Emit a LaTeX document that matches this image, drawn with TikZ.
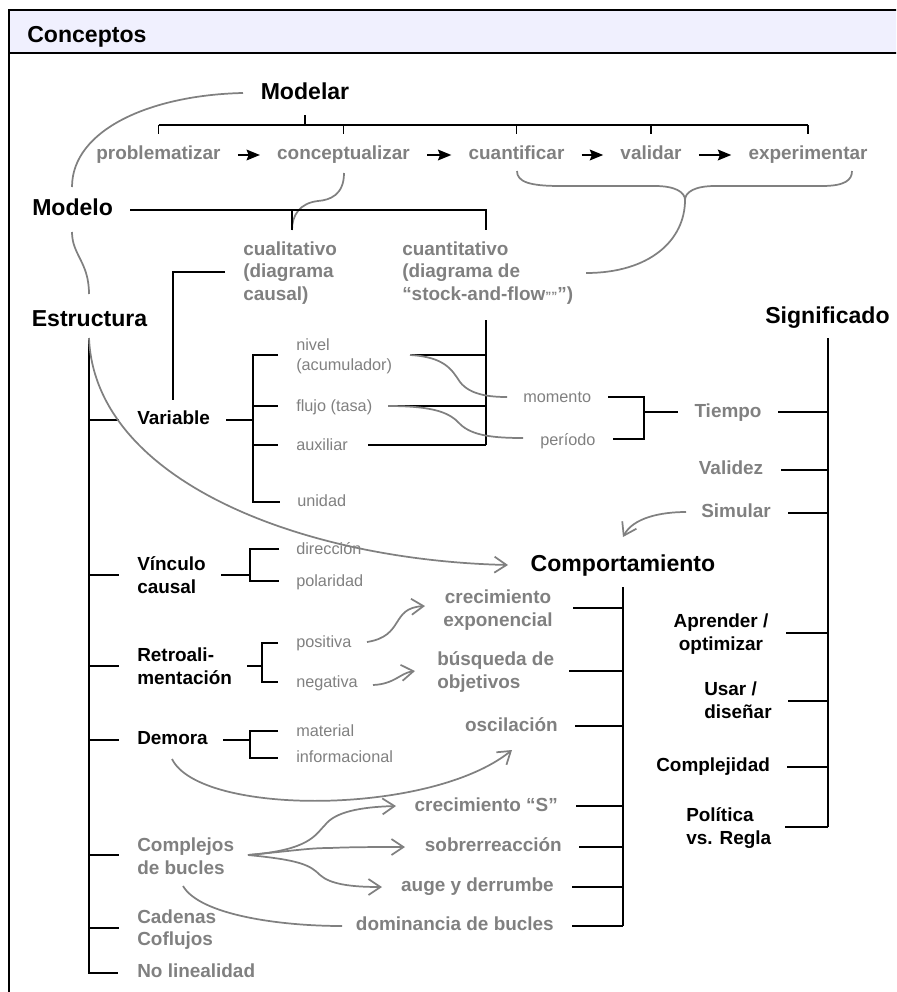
\documentclass[tikz,border=0pt]{standalone}
\usepackage{fontspec}
\setmainfont{Liberation Sans}
\usetikzlibrary{arrows.meta}
\definecolor{txtgray}{RGB}{128,128,128}
\definecolor{hdr}{RGB}{240,240,254}
\tikzset{
  big/.style={font=\bfseries\fontsize{17.3}{20}\selectfont, inner sep=0pt, text=black, text height=12.5pt, text depth=3.6pt},
  med/.style={font=\bfseries\fontsize{14.2}{16.9}\selectfont, inner sep=0pt},
  medk/.style={med, text=black},
  medg/.style={med, text=txtgray},
  one/.style={text height=10.3pt, text depth=3pt},
  sml/.style={font=\fontsize{12.2}{15}\selectfont, inner sep=0pt, text=txtgray},
  sone/.style={text height=8.8pt, text depth=2.6pt},
  ln/.style={draw=black, line width=0.9pt},
  lnb/.style={draw=black, line width=1.2pt},
  gc/.style={draw=txtgray, line width=1.3pt},
  garr/.style={gc, -{Straight Barb[length=9pt,width=12pt]}},
  barr/.style={draw=black, line width=1.5pt, -{Stealth[length=10pt,width=8pt,inset=1.5pt]}, shorten <=12.75pt, shorten >=12.75pt},
}
\begin{document}
\begin{tikzpicture}[x=0.75pt,y=-0.75pt]
\useasboundingbox (0,0) rectangle (896,992);
\clip (0,0) rectangle (896,992);
% frame
\fill[hdr] (9,10) rectangle (905,53);
\draw[line width=1.6pt] (905,10) -- (9,10) -- (9,1000);
\draw[line width=1.6pt] (9,53) -- (905,53);
\node[big, anchor=west] (conc) at (27,37) {Conceptos};

% main headings
\node[big] (modelar) at (305,94) {Modelar};
\node[big, anchor=west] (modelo) at (32,210) {Modelo};
\node[big] (estr) at (89.5,321) {Estructura};
\node[big] (signif) at (827.5,318) {Significado};
\node[big] (comp) at (623,566) {Comportamiento};

% process row
\node[medg, one] (prob) at (158.5,155) {problematizar};
\node[medg, one] (concz) at (343.5,155) {conceptualizar};
\node[medg, one] (cuan) at (516.5,155) {cuantificar};
\node[medg, one] (vali) at (651,155) {validar};
\node[medg, one] (expe) at (808,155) {experimentar};
\draw[barr] (prob) -- (concz);
\draw[barr] (concz) -- (cuan);
\draw[barr] (cuan) -- (vali);
\draw[barr] (vali) -- (expe);

% Modelar bracket
\coordinate (mt) at (305,115);
\coordinate (mb) at (305,125);
\draw[ln] (mt) -- (mb);
\draw[ln] (prob |- mb) -- (expe |- mb);
\foreach \n in {prob,concz,cuan,vali,expe} \draw[ln] (\n |- mb) -- ++(0,9);

% braces
\draw[gc] (517,171) .. controls (517,182) and (530,186) .. (560,186) -- (655,186)
  .. controls (675,186) and (685,192) .. (685,200)
  .. controls (685,192) and (695,186) .. (715,186) -- (822,186)
  .. controls (845,186) and (852,180) .. (852,171);
\draw[gc] (685,200) .. controls (685,240) and (650,273) .. (586,273);
\draw[gc] (344,173) .. controls (344,195) and (330,200) .. (318,201)
  .. controls (300,203) and (292,215) .. (292,230);

% Modelo bracket
\coordinate (mo1) at (130,210);
\coordinate (mo2) at (486,210);
\draw[ln] (mo1) -- (mo2) -- ++(0,20);
\draw[ln] (292,210) -- (292,230);

% Modelar -> Modelo -> Estructura
\draw[gc] (243,93) .. controls (150,95) and (72,130) .. (72,187);
\draw[gc] (72,232) .. controls (72,255) and (89,262) .. (89,294);

% model types
\node[medg, align=left, anchor=west] (cual) at (243,273) {cualitativo\\(diagrama\\causal)};
\node[medg, align=left, anchor=west] (cuant) at (402,273) {cuantitativo\\(diagrama de\\“stock-and-flow{\fontsize{9}{9}\selectfont ””}”)};
\draw[ln] (225,272) -- (173,272) -- (173,400);
\draw[ln] (486,320) -- (486,445);
\draw[ln] (410,355) -- (486,355);
\draw[ln] (388,406) -- (486,406);
\draw[ln] (368,445) -- (486,445);

% Estructura tree
\draw[lnb] (89,338) -- (89,973) -- (118,973);
\foreach \y in {420,575,666,740,855,928} \draw[ln] (89,\y) -- (119,\y);

\node[medk, one, anchor=west] (var) at (137,420) {Variable};
\node[medk, align=left, anchor=west] (vinc) at (137,575) {Vínculo\\causal};
\node[medk, align=left, anchor=west] (retro) at (137,666) {Retroali-\\mentación};
\node[medk, one, anchor=west] (demora) at (137,740) {Demora};
\node[medg, align=left, anchor=west] (compl) at (137,856) {Complejos\\de bucles};
\node[medg, align=left, anchor=west] (cad) at (137,929.5) {Cadenas\\Coflujos};
\node[medg, one, anchor=west] (nolin) at (137,973) {No linealidad};

% small labels
\node[sml, align=left, anchor=west] (nivel) at (296,356) {nivel\\(acumulador)};
\node[sml, sone, anchor=west] (flujo) at (296,407) {flujo (tasa)};
\node[sml, sone, anchor=west] (aux) at (296,446) {auxiliar};
\node[sml, sone, anchor=west] (unid) at (297,502) {unidad};
\node[sml, sone, anchor=west] (dir) at (296,550) {dirección};
\node[sml, sone, anchor=west] (pol) at (296,582) {polaridad};
\node[sml, sone, anchor=west] (pos) at (296,643) {positiva};
\node[sml, sone, anchor=west] (neg) at (296,683) {negativa};
\node[sml, sone, anchor=west] (mat) at (296,732) {material};
\node[sml, sone, anchor=west] (inf) at (296,758) {informacional};
\node[sml, sone, anchor=west] (mom) at (523,398) {momento};
\node[sml, sone, anchor=west] (per) at (540,441) {período};

% sub brackets
\draw[ln] (226,420) -- (253,420);
\draw[ln] (278,355) -- (253,355) -- (253,502) -- (280,502);
\draw[ln] (253,406) -- (278,406);
\draw[ln] (253,445) -- (278,445);
\draw[ln] (221,575) -- (250,575);
\draw[ln] (279,549) -- (250,549) -- (250,581) -- (279,581);
\draw[ln] (247,666) -- (262,666);
\draw[ln] (278,643) -- (262,643) -- (262,682) -- (278,682);
\draw[ln] (223,740) -- (250,740);
\draw[ln] (278,731) -- (250,731) -- (250,758) -- (278,758);

% nivel/flujo to momento/periodo
\draw[gc] (410,355) .. controls (445,357) and (452,370) .. (460,382)
  .. controls (470,395) and (490,397) .. (507,397);
\draw[gc] (388,406) .. controls (435,406) and (450,413) .. (460,424)
  .. controls (472,436) and (495,438) .. (523,438);

% Tiempo
\draw[ln] (608,397) -- (644,397) -- (644,439) -- (613,439);
\draw[ln] (644,412) -- (678,412);

% Significado tree
\node[medg, one] (tiempo) at (728,413) {Tiempo};
\node[medg, one] (valid) at (731,470) {Validez};
\node[medg, one] (simul) at (736,513) {Simular};
\node[medk, align=center] (apr) at (721,634) {Aprender /\\optimizar};
\node[medk, align=left, anchor=west] (usar) at (704,700) {Usar /\\diseñar};
\node[medk, one, anchor=west] (cplj) at (656,767) {Complejidad};
\node[medk, align=left, anchor=west] (polit) at (686,828) {Política\\vs. Regla};
\draw[lnb] (828,338) -- (828,827);
\foreach \x/\y in {778/412,781/470,788/513,786/633,788/701,787/767,785/827} \draw[ln] (\x,\y) -- (828,\y);

% Comportamiento tree
\node[medg, align=center] (crexp) at (498,610) {crecimiento\\exponencial};
\node[medg, align=left, anchor=west] (busq) at (437,672) {búsqueda de\\objetivos};
\node[medg, one, anchor=east] (osc) at (558,727) {oscilación};
\node[medg, one, anchor=east] (crs) at (558,807) {crecimiento “S”};
\node[medg, one, anchor=east] (sob) at (562,847) {sobrerreacción};
\node[medg, one, anchor=east] (auge) at (554,887) {auge y derrumbe};
\node[medg, one, anchor=east] (dom) at (554,926) {dominancia de bucles};
\draw[lnb] (623,587) -- (623,926);
\foreach \x/\y in {573/608,569/671,575/726,576/806,579/847,572/887,572/926} \draw[ln] (\x,\y) -- (623,\y);

% gray arrows
\draw[garr] (89,338) .. controls (95,480) and (300,560) .. (508,565);
\draw[garr] (686,512) .. controls (660,512) and (633,518) .. (623,537);
\draw[garr] (172,759) .. controls (200,816) and (430,816) .. (512,750);
\draw[garr] (367,642) .. controls (405,636) and (390,608) .. (425,606);
\draw[garr] (373,685) .. controls (395,684) and (400,673) .. (415,671);
\draw[garr] (248,855) .. controls (310,850) and (315,835) .. (325,825)
  .. controls (335,812) and (360,807) .. (396,806);
\draw[garr] (248,855) .. controls (300,850) and (310,848) .. (330,848)
  .. controls (350,847) and (380,847) .. (405,847);
\draw[garr] (248,855) .. controls (300,860) and (310,865) .. (320,875)
  .. controls (330,884) and (350,887) .. (382,887);
\draw[gc] (183,886) .. controls (200,915) and (280,926) .. (342,926);
\end{tikzpicture}
\end{document}
